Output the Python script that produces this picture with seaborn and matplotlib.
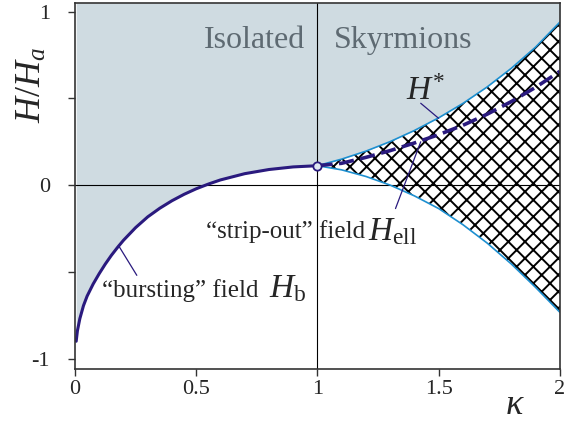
import matplotlib
matplotlib.use('agg')
import numpy as np
import matplotlib.pyplot as plt
import seaborn as sns

# bursting field H_b (kappa < 1)
kappa_b = [0.005, 0.01, 0.02, 0.035, 0.05, 0.075, 0.1, 0.125, 0.15, 0.175, 0.2, 0.25,
           0.3, 0.35, 0.4, 0.45, 0.5, 0.55, 0.6, 0.7, 0.8, 0.9, 1.0]
h_b = [-0.9, -0.84, -0.77, -0.695, -0.64, -0.57, -0.51, -0.455, -0.405, -0.36, -0.318, -0.245,
       -0.183, -0.133, -0.09, -0.053, -0.021, 0.006, 0.03, 0.066, 0.09, 0.105, 0.112]

# kappa > 1 : upper boundary, H*, strip-out field H_ell
kappa_r = [1.0, 1.1, 1.2, 1.3, 1.4, 1.5, 1.6, 1.7, 1.8, 1.9, 2.0]
h_upper = [0.112, 0.15, 0.196, 0.251, 0.315, 0.388, 0.471, 0.566, 0.674, 0.796, 0.94]
h_star = [0.112, 0.126, 0.16, 0.199, 0.243, 0.291, 0.345, 0.409, 0.482, 0.564, 0.656]
h_ell = [0.112, 0.088, 0.05, 0.0, -0.062, -0.135, -0.228, -0.334, -0.455, -0.59, -0.733]

x_ticks = [0, 0.5, 1, 1.5, 2]
x_ticklabels = ['0', '0.5', '1', '1.5', '2']
y_ticks = [-1, 0, 1]
y_ticklabels = ['-1', '0', '1']

sns.set_style('ticks')
plt.rcParams['font.family'] = ['Liberation Serif', 'DejaVu Serif']
plt.rcParams['mathtext.fontset'] = 'custom'
plt.rcParams['mathtext.rm'] = 'Liberation Serif'
plt.rcParams['mathtext.it'] = 'Liberation Serif:italic'
plt.rcParams['axes.unicode_minus'] = False
plt.rcParams['hatch.linewidth'] = 1.4

navy = '#2a1a7e'
light = '#1d8fd0'
fill = '#cfdbe1'
grey_txt = '#5e6a72'

fig = plt.figure(figsize=(5.79, 4.22), dpi=100)
ax = fig.add_axes([0.1295, 0.1256, 0.8375, 0.8673])
ytop, ybot = 1.05, -1.06

ax.fill_between(kappa_b, h_b, ytop, color=fill, lw=0, zorder=1)
ax.fill_between(kappa_r, h_upper, ytop, color=fill, lw=0, zorder=1)
ax.fill_between(kappa_r, h_ell, h_upper, facecolor='none', edgecolor='black',
                hatch='xx', lw=0, zorder=2)

ax.axvline(1, color='black', lw=0.8, zorder=3)
ax.axhline(0, color='black', lw=0.8, zorder=3)

sns.lineplot(x=kappa_b, y=h_b, ax=ax, color=navy, lw=2.2, zorder=4)
sns.lineplot(x=kappa_r, y=h_upper, ax=ax, color=light, lw=1.2, zorder=4)
sns.lineplot(x=kappa_r, y=h_ell, ax=ax, color=light, lw=1.2, zorder=4)
sns.lineplot(x=kappa_r, y=h_star, ax=ax, color=navy, lw=2.6, zorder=5,
             linestyle=(0, (4.2, 1.8)))
ax.plot([1], [0.112], 'o', ms=6, mfc='#dfe6f0', mec=navy, mew=1.3, zorder=6)

# pointer lines
ax.plot([0.179, 0.255], [-0.347, -0.52], color=navy, lw=0.9, zorder=5)
ax.plot([1.322, 1.426], [-0.135, 0.25], color=navy, lw=0.9, zorder=5)
ax.plot([1.426, 1.5], [0.472, 0.385], color=navy, lw=0.9, zorder=5)

ax.text(0.95, 0.792, 'Isolated', ha='right', va='baseline', fontsize=23, color=grey_txt)
ax.text(1.066, 0.792, 'Skyrmions', ha='left', va='baseline', fontsize=23, color=grey_txt)
ax.text(1.364, 0.491, r'$H^{*}$', ha='left', va='baseline', fontsize=24)
ax.text(0.541, -0.306, '\u201cstrip-out\u201d field', ha='left', va='baseline', fontsize=18)
ax.text(1.207, -0.318, r'$H_{\mathrm{ell}}$', ha='left', va='baseline', fontsize=24)
ax.text(0.112, -0.647, '\u201cbursting\u201d field', ha='left', va='baseline', fontsize=18)
ax.text(0.8, -0.647, r'$H_{\mathrm{b}}$', ha='left', va='baseline', fontsize=24)

ax.set_xlim(0, 2)
ax.set_ylim(ybot, ytop)
ax.set_xticks(x_ticks)
ax.set_xticklabels(x_ticklabels)
ax.set_yticks(y_ticks)
ax.set_yticklabels(y_ticklabels)
ax.set_yticks([-0.5, 0.5], minor=True)
ax.tick_params(axis='both', labelsize=16, length=5, width=1, color='#333333')
ax.tick_params(axis='y', which='minor', length=5, width=1, color='#333333')
ax.tick_params(axis='y', pad=13)
ax.tick_params(axis='x', pad=3)
for s in ax.spines.values():
    s.set_visible(True)
    s.set_linewidth(1.2)
    s.set_color('#333333')
    s.set_zorder(7)

fig.text(32 / 579, 1 - 85 / 422, r'$H/H_a$', rotation=90, ha='center', va='center', fontsize=26)
fig.text(515 / 579, 1 - 405 / 422, r'$\kappa$', ha='center', va='center', fontsize=26)

fig.savefig('out.png', dpi=100)
